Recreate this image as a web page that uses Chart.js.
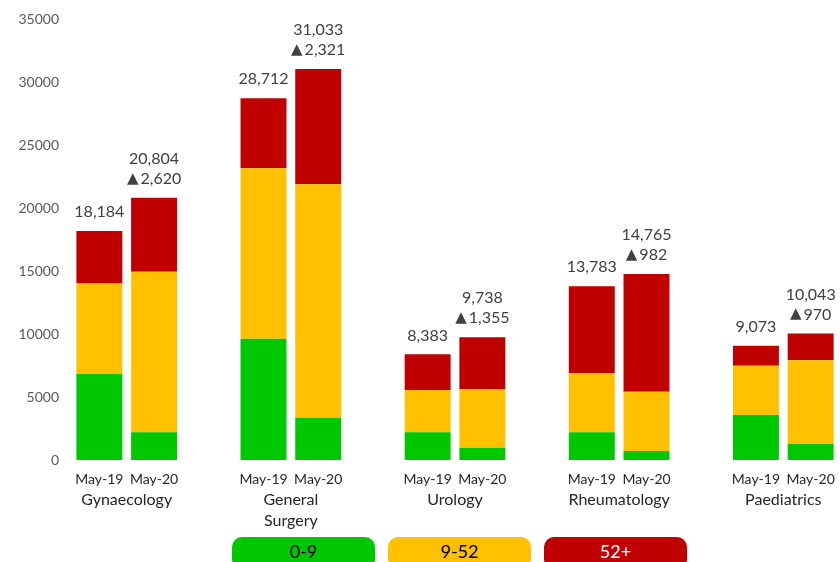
<!DOCTYPE html>
<html>
<head>
<meta charset="utf-8">
<script src="https://cdn.jsdelivr.net/npm/chart.js@4.4.1/dist/chart.umd.min.js"></script>
<style>
    body { margin: 0; background: #fff; font-family: Lato, "Open Sans", sans-serif; }
    #wrap { position: relative; width: 840px; height: 562px; overflow: hidden; }
    #box { position: absolute; left: 0; top: 0; width: 840px; height: 530px; }
    #legend { position: absolute; left: 232px; top: 537px; display: flex; gap: 13px; }
    .leg { width: 143px; height: 32px; border-radius: 10px; text-align: center;
           font-size: 18px; line-height: 28px; color: #000; }
</style>
</head>
<body>
<div id="wrap">
    <div id="box"><canvas id="waitChart"></canvas></div>
    <div id="legend"></div>
</div>
<script>
// Departamentos e períodos
const departments = ['Gynaecology', ['General', 'Surgery'], 'Urology', 'Rheumatology', 'Paediatrics'];
const periods = ['May-19', 'May-20'];

// Valores por faixa de espera (ordem: dept x período)
const weeks0to9 = [6830, 2200, 9630, 3360, 2200, 980, 2200, 710, 3570, 1290];
const weeks9to52 = [7170, 12750, 13520, 18520, 3360, 4660, 4700, 4710, 3920, 6620];
const weeks52plus = [4184, 5854, 5562, 9153, 2823, 4098, 6883, 9345, 1583, 2133];

const bandNames = ['0-9', '9-52', '52+'];
const bandColors = ['#00C800', '#FFC000', '#C00000'];
const yTicks = [0, 5000, 10000, 15000, 20000, 25000, 30000, 35000];

// Monta os slots: dois períodos por departamento + um espaço vazio entre grupos
const slotLabels = [];
const slotIndex = [];   // índice nos arrays de dados, ou null para o espaço
departments.forEach((d, di) => {
    periods.forEach((p, pi) => {
        slotLabels.push(p);
        slotIndex.push(di * periods.length + pi);
    });
    if (di < departments.length - 1) {
        slotLabels.push('');
        slotIndex.push(null);
    }
});
const toSlots = arr => slotIndex.map(i => i === null ? null : arr[i]);

const bands = [weeks0to9, weeks9to52, weeks52plus];
const totals = weeks0to9.map((v, i) => v + weeks9to52[i] + weeks52plus[i]);
const fmt = n => n.toLocaleString('en-GB');
const FONT = 'Lato, "Open Sans", sans-serif';

// Rótulos de total (e variação) acima das barras
const totalsPlugin = {
    id: 'totals',
    afterDatasetsDraw(chart) {
        const ctx = chart.ctx;
        const y = chart.scales.y;
        const x = chart.scales.x;
        ctx.save();
        ctx.fillStyle = '#404040';
        ctx.textBaseline = 'middle';
        slotIndex.forEach((idx, s) => {
            if (idx === null) return;
            const px = x.getPixelForValue(s);
            const top = y.getPixelForValue(totals[idx]);
            ctx.font = '16px ' + FONT;
            ctx.textAlign = 'center';
            if (idx % 2 === 1) {
                const delta = totals[idx] - totals[idx - 1];
                const arrow = delta >= 0 ? '\u25B2' : '\u25BC';
                const num = fmt(Math.abs(delta));
                ctx.fillText(fmt(totals[idx]), px, top - 39);
                // seta e número desenhados em partes
                const numW = ctx.measureText(num).width;
                ctx.font = '15px "DejaVu Sans", sans-serif';
                const arW = ctx.measureText(arrow).width;
                const gap = 2;
                const start = px - (arW + gap + numW) / 2;
                ctx.textAlign = 'left';
                ctx.fillText(arrow, start, top - 19);
                ctx.font = '16px ' + FONT;
                ctx.fillText(num, start + arW + gap, top - 19);
            } else {
                ctx.fillText(fmt(totals[idx]), px, top - 19);
            }
        });
        // Nomes dos departamentos abaixo dos meses
        ctx.font = '16px ' + FONT;
        ctx.fillStyle = '#262626';
        ctx.textAlign = 'center';
        departments.forEach((d, di) => {
            const first = slotIndex.indexOf(di * periods.length);
            const cx = (x.getPixelForValue(first) + x.getPixelForValue(first + 1)) / 2;
            const lines = Array.isArray(d) ? d : [d];
            lines.forEach((line, li) => {
                ctx.fillText(line, cx, chart.chartArea.bottom + 40 + li * 21);
            });
        });
        ctx.restore();
    }
};

const ctx = document.getElementById('waitChart').getContext('2d');
const chart = new Chart(ctx, {
    type: 'bar',
    data: {
        labels: slotLabels,
        datasets: bands.map((b, i) => ({
            label: bandNames[i],
            data: toSlots(b),
            backgroundColor: bandColors[i],
            borderWidth: 0,
            barPercentage: 0.84,
            categoryPercentage: 1
        }))
    },
    options: {
        responsive: true,
        maintainAspectRatio: false,
        animation: false,
        layout: { padding: { top: 19, right: 2, left: 0, bottom: 0 } },
        plugins: {
            legend: { display: false },
            tooltip: { enabled: false }
        },
        scales: {
            x: {
                stacked: true,
                grid: { display: false },
                border: { display: false },
                ticks: {
                    color: '#262626',
                    font: { size: 14, family: FONT },
                    padding: 3,
                    maxRotation: 0,
                    autoSkip: false
                },
                afterFit: s => { s.height = 70; }
            },
            y: {
                stacked: true,
                min: 0,
                max: 35000,
                grid: { display: false },
                border: { display: false },
                afterBuildTicks: s => { s.ticks = yTicks.map(v => ({ value: v })); },
                ticks: {
                    color: '#595959',
                    font: { size: 14, family: FONT },
                    padding: 5,
                    callback: v => String(v)
                },
                afterFit: s => { s.width = 72; }
            }
        }
    },
    plugins: [totalsPlugin]
});

// Legenda em HTML: caixas arredondadas com o texto dentro
const legend = document.getElementById('legend');
chart.data.datasets.forEach((ds, i) => {
    const el = document.createElement('div');
    el.className = 'leg';
    el.style.background = ds.backgroundColor;
    if (i === 2) el.style.color = '#fff';
    el.textContent = ds.label;
    legend.appendChild(el);
});
</script>
</body>
</html>
